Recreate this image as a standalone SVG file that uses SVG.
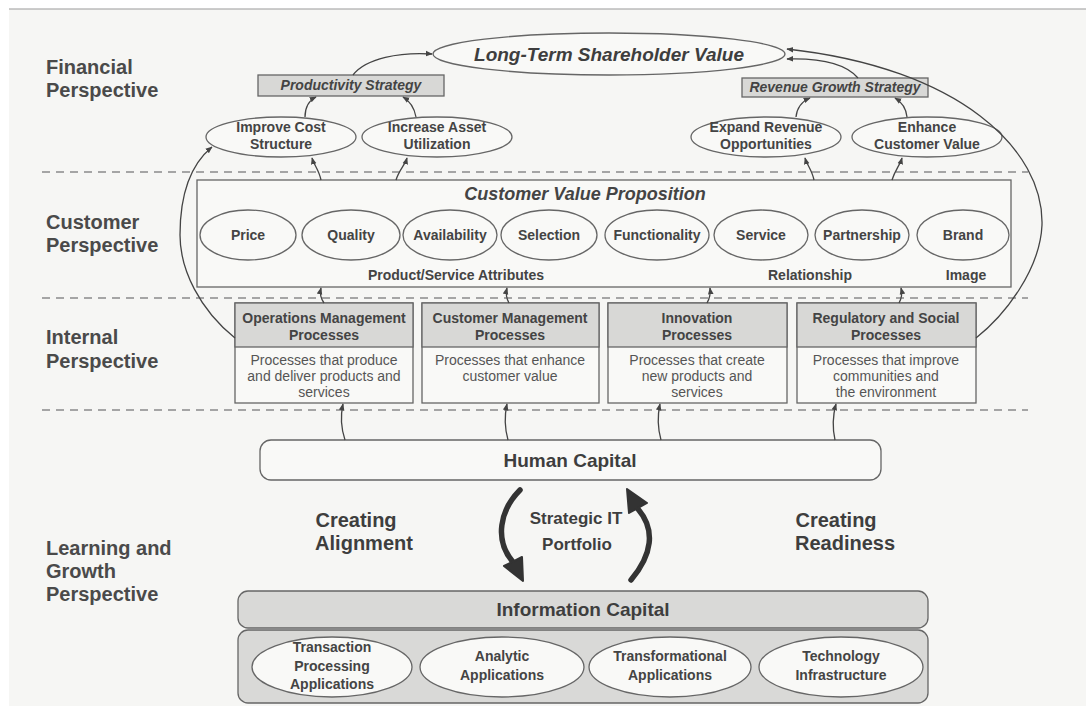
<svg xmlns="http://www.w3.org/2000/svg" width="1086" height="706" viewBox="0 0 1086 706">
<defs>
<style>
.persp{font-family:"Liberation Sans",Arial,sans-serif;font-weight:bold;font-size:20px;fill:#4a4a4a}
.lbl{font-family:"Liberation Sans",Arial,sans-serif;font-weight:bold;font-size:14px;fill:#444;text-anchor:middle}
.body{font-family:"Liberation Sans",Arial,sans-serif;font-size:14px;fill:#555;text-anchor:middle}
.big-t{font-family:"Liberation Sans",Arial,sans-serif;font-weight:bold;font-size:19px;fill:#3e3e3e;text-anchor:middle}
.ital{font-style:italic}
.shape{fill:#f9f9f7;stroke:#666;stroke-width:1.3}
.hdr{fill:#d8d8d6;stroke:#666;stroke-width:1.3}
.band{fill:#d9d9d7;stroke:#666;stroke-width:1.3}
.sep{stroke:#8a8a8a;stroke-width:1.3;stroke-dasharray:8 6;fill:none}
.conn{fill:none;stroke:#444;stroke-width:1.3;marker-end:url(#ah)}
.cycle{fill:none;stroke:#333;stroke-width:5.5;stroke-linecap:round}
</style>
<marker id="ah" viewBox="0 0 10 10" refX="9" refY="5" markerWidth="7" markerHeight="7" orient="auto" markerUnits="userSpaceOnUse">
<path d="M0,1 L10,5 L0,9 Z" fill="#444"/>
</marker>
</defs>

<!-- page -->
<rect x="0" y="0" width="1086" height="706" fill="#ffffff"/>
<rect x="9" y="9" width="1077" height="697" fill="#f6f6f4"/>
<line x1="9" y1="9" x2="1086" y2="9" stroke="#9a9a9a" stroke-width="1.2"/>

<!-- perspective labels -->
<g id="labels">
<text class="persp" x="46" y="74">Financial</text>
<text class="persp" x="46" y="97">Perspective</text>
<text class="persp" x="46" y="229">Customer</text>
<text class="persp" x="46" y="252">Perspective</text>
<text class="persp" x="46" y="344">Internal</text>
<text class="persp" x="46" y="368">Perspective</text>
<text class="persp" x="46" y="555">Learning and</text>
<text class="persp" x="46" y="578">Growth</text>
<text class="persp" x="46" y="601">Perspective</text>
</g>

<!-- perspective separators -->
<g id="separators">
<line class="sep" x1="42" y1="172" x2="1028" y2="172"/>
<line class="sep" x1="42" y1="298" x2="1028" y2="298"/>
<line class="sep" x1="42" y1="410" x2="1028" y2="410"/>
</g>

<!-- financial -->
<g id="shareholder-value">
<ellipse class="shape" cx="609" cy="54" rx="176" ry="21"/>
<text class="big-t ital" x="609" y="61" style="font-size:19px">Long-Term Shareholder Value</text>
</g>
<g id="productivity-strategy">
<rect class="hdr" x="258" y="75" width="186" height="21"/>
<text class="lbl ital" x="351" y="90">Productivity Strategy</text>
</g>
<g id="revenue-growth-strategy">
<rect class="hdr" x="742" y="78" width="186" height="19"/>
<text class="lbl ital" x="835" y="92">Revenue Growth Strategy</text>
</g>
<g id="improve-cost">
<ellipse class="shape" cx="281" cy="137" rx="75" ry="20"/>
<text class="lbl" x="281" y="132">Improve Cost</text>
<text class="lbl" x="281" y="149">Structure</text>
</g>
<g id="asset-utilization">
<ellipse class="shape" cx="437" cy="137" rx="75" ry="20"/>
<text class="lbl" x="437" y="132">Increase Asset</text>
<text class="lbl" x="437" y="149">Utilization</text>
</g>
<g id="revenue-opportunities">
<ellipse class="shape" cx="766" cy="137" rx="75" ry="20"/>
<text class="lbl" x="766" y="132">Expand Revenue</text>
<text class="lbl" x="766" y="149">Opportunities</text>
</g>
<g id="customer-value">
<ellipse class="shape" cx="927" cy="137" rx="75" ry="20"/>
<text class="lbl" x="927" y="132">Enhance</text>
<text class="lbl" x="927" y="149">Customer Value</text>
</g>

<!-- customer -->
<g id="value-proposition">
<rect class="shape" x="197" y="180" width="814" height="107"/>
<text class="lbl ital" x="585" y="200" style="font-size:18px">Customer Value Proposition</text>
<ellipse class="shape" cx="248" cy="235" rx="48" ry="25"/>
<text class="lbl" x="248" y="240">Price</text>
<ellipse class="shape" cx="351" cy="235" rx="49" ry="25"/>
<text class="lbl" x="351" y="240">Quality</text>
<ellipse class="shape" cx="450" cy="235" rx="47" ry="25"/>
<text class="lbl" x="450" y="240">Availability</text>
<ellipse class="shape" cx="549" cy="235" rx="48" ry="25"/>
<text class="lbl" x="549" y="240">Selection</text>
<ellipse class="shape" cx="657" cy="235" rx="52" ry="25"/>
<text class="lbl" x="657" y="240">Functionality</text>
<ellipse class="shape" cx="761" cy="235" rx="47" ry="25"/>
<text class="lbl" x="761" y="240">Service</text>
<ellipse class="shape" cx="862" cy="235" rx="47" ry="25"/>
<text class="lbl" x="862" y="240">Partnership</text>
<ellipse class="shape" cx="963" cy="235" rx="46" ry="25"/>
<text class="lbl" x="963" y="240">Brand</text>
<text class="lbl" x="456" y="280">Product/Service Attributes</text>
<text class="lbl" x="810" y="280">Relationship</text>
<text class="lbl" x="966" y="280">Image</text>
</g>

<!-- internal processes -->
<g id="operations-processes">
<rect class="shape" x="235" y="303" width="178" height="100"/>
<rect class="hdr" x="235" y="303" width="178" height="44"/>
<text class="lbl" x="324" y="323">Operations Management</text>
<text class="lbl" x="324" y="340">Processes</text>
<text class="body" x="324" y="365">Processes that produce</text>
<text class="body" x="324" y="381">and deliver products and</text>
<text class="body" x="324" y="397">services</text>
</g>
<g id="customer-management-processes">
<rect class="shape" x="422" y="303" width="177" height="100"/>
<rect class="hdr" x="422" y="303" width="177" height="44"/>
<text class="lbl" x="510" y="323">Customer Management</text>
<text class="lbl" x="510" y="340">Processes</text>
<text class="body" x="510" y="365">Processes that enhance</text>
<text class="body" x="510" y="381">customer value</text>
</g>
<g id="innovation-processes">
<rect class="shape" x="608" y="303" width="179" height="100"/>
<rect class="hdr" x="608" y="303" width="179" height="44"/>
<text class="lbl" x="697" y="323">Innovation</text>
<text class="lbl" x="697" y="340">Processes</text>
<text class="body" x="697" y="365">Processes that create</text>
<text class="body" x="697" y="381">new products and</text>
<text class="body" x="697" y="397">services</text>
</g>
<g id="regulatory-processes">
<rect class="shape" x="797" y="303" width="179" height="100"/>
<rect class="hdr" x="797" y="303" width="179" height="44"/>
<text class="lbl" x="886" y="323">Regulatory and Social</text>
<text class="lbl" x="886" y="340">Processes</text>
<text class="body" x="886" y="365">Processes that improve</text>
<text class="body" x="886" y="381">communities and</text>
<text class="body" x="886" y="397">the environment</text>
</g>

<!-- learning and growth -->
<g id="human-capital">
<rect class="shape" x="260" y="440" width="621" height="40" rx="11"/>
<text class="big-t" x="570" y="467">Human Capital</text>
</g>
<g id="it-portfolio">
<text class="big-t" x="356" y="527" style="font-size:20px">Creating</text>
<text class="big-t" x="364" y="550" style="font-size:20px">Alignment</text>
<text class="big-t" x="836" y="527" style="font-size:20px">Creating</text>
<text class="big-t" x="845" y="550" style="font-size:20px">Readiness</text>
<text class="big-t" x="576" y="524" style="font-size:17px">Strategic IT</text>
<text class="big-t" x="577" y="550" style="font-size:17px">Portfolio</text>
<path class="cycle" d="M520,490 C500,510 494,540 513,562"/>
<polygon points="523,581 522,557 504,566" fill="#333" stroke="#333" stroke-width="2" stroke-linejoin="round"/>
<path class="cycle" d="M631,580 C652,555 656,530 638,509"/>
<polygon points="627,489 647,503 629,513" fill="#333" stroke="#333" stroke-width="2" stroke-linejoin="round"/>
</g>
<g id="information-capital">
<rect class="band" x="238" y="591" width="690" height="37" rx="10"/>
<text class="big-t" x="583" y="616">Information Capital</text>
<rect class="band" x="238" y="630" width="690" height="73" rx="10"/>
<ellipse class="shape" cx="332" cy="667" rx="80" ry="30"/>
<text class="lbl" x="332" y="652">Transaction</text>
<text class="lbl" x="332" y="671">Processing</text>
<text class="lbl" x="332" y="689">Applications</text>
<ellipse class="shape" cx="502" cy="667" rx="82" ry="30"/>
<text class="lbl" x="502" y="661">Analytic</text>
<text class="lbl" x="502" y="680">Applications</text>
<ellipse class="shape" cx="670" cy="667" rx="81" ry="30"/>
<text class="lbl" x="670" y="661">Transformational</text>
<text class="lbl" x="670" y="680">Applications</text>
<ellipse class="shape" cx="841" cy="667" rx="82" ry="30"/>
<text class="lbl" x="841" y="661">Technology</text>
<text class="lbl" x="841" y="680">Infrastructure</text>
</g>

<!-- connectors -->
<g id="connectors">
<path class="conn" d="M305,117 C305,106 310,100 316,97"/>
<path class="conn" d="M416,117 C414,106 408,100 403,97"/>
<path class="conn" d="M353,75 C366,58 400,52 432,54"/>
<path class="conn" d="M796,117 C797,107 803,101 810,98"/>
<path class="conn" d="M907,117 C906,107 900,101 895,98"/>
<path class="conn" d="M858,78 C846,64 820,58 787,59"/>
<path class="conn" d="M976,338 C1005,315 1040,270 1042,225 C1044,150 960,68 787,49"/>
<path class="conn" d="M235,338 C200,310 180,270 180,235 C180,195 190,165 212,147"/>
<path class="conn" d="M321,180 C319,170 314,165 312,158"/>
<path class="conn" d="M396,180 C399,170 405,165 407,158"/>
<path class="conn" d="M814,180 C812,170 807,165 805,158"/>
<path class="conn" d="M892,180 C895,170 900,165 902,158"/>
<path class="conn" d="M324,303 Q319,296 321,288"/>
<path class="conn" d="M509,303 Q505,296 507,288"/>
<path class="conn" d="M707,303 Q711,296 710,288"/>
<path class="conn" d="M899,303 Q903,296 901,288"/>
<path class="conn" d="M345,440 Q339,422 343,404"/>
<path class="conn" d="M508,440 Q503,422 507,404"/>
<path class="conn" d="M661,440 Q656,422 660,404"/>
<path class="conn" d="M835,440 Q831,422 836,404"/>
</g>
</svg>
